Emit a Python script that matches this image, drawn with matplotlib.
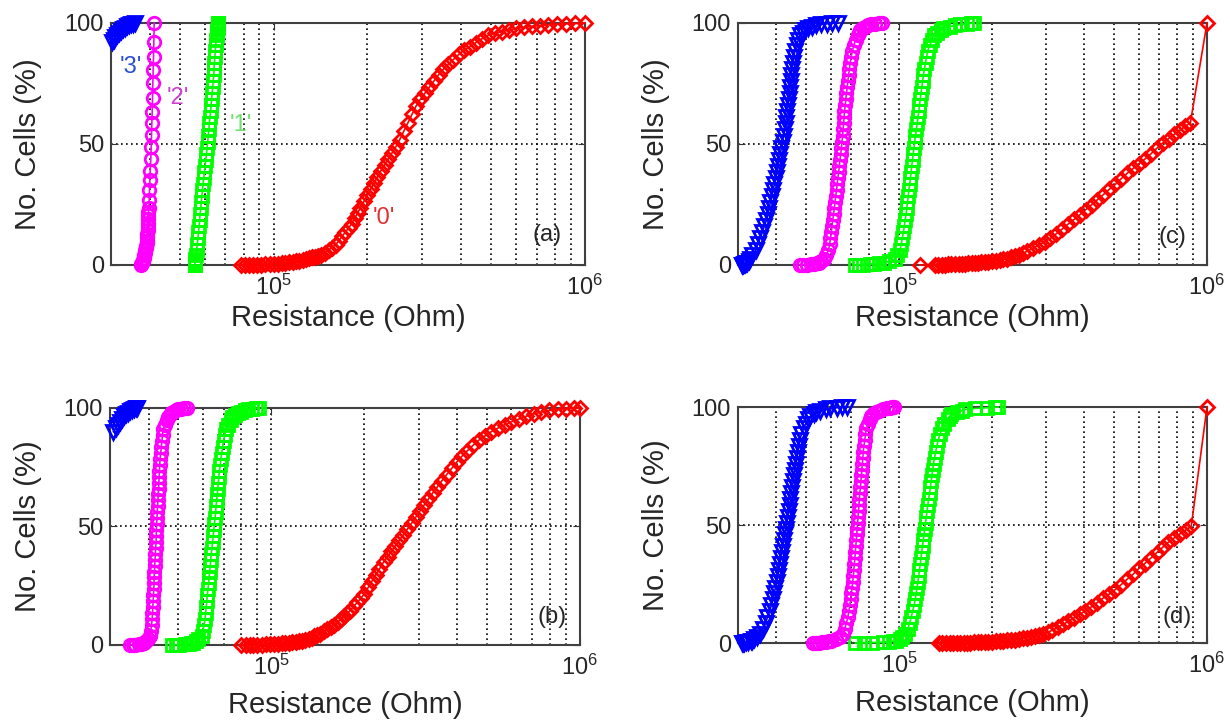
import matplotlib
matplotlib.use('Agg')
import matplotlib.pyplot as plt
from matplotlib.ticker import LogLocator, NullFormatter

plt.rcParams['font.family'] = ['Liberation Sans', 'DejaVu Sans']

# cumulative percentages shared by the steep state curves
LEVELS = [0, 0.1, 0.2, 0.35, 0.5, 0.75, 1, 1.5, 2.5, 4, 6,
          8.5, 11, 13.5, 16, 18.5, 21, 23.5, 26, 28.5, 31, 33.5, 36, 38.5, 41,
          43.5, 46, 48.5, 51, 53.5, 56, 58.5, 61, 63.5, 66, 68.5, 71, 73.5, 76,
          78.5, 81, 83.5, 86, 88.5,
          91, 93, 95, 96, 97, 97.8, 98.5, 99, 99.4, 99.7, 99.9, 100]

# resistances in kOhm
# (a)
BLUE_A_X = [30.2, 30.6, 31.0, 31.4, 31.9, 32.3, 32.8, 33.3, 33.8, 34.3, 34.8, 35.3, 35.8]
BLUE_A_Y = [92, 93, 94, 95, 96, 96.8, 97.5, 98.1, 98.6, 99, 99.4, 99.7, 100]
MAG_A_X = [37.4, 37.6, 37.7, 37.9, 38.0, 38.2, 38.4, 38.55, 38.7, 38.85, 38.95, 39.05, 39.1,
           39.2, 39.3, 39.35, 39.4, 39.45, 39.5, 39.55, 39.6, 39.7, 39.8, 39.9, 40.0, 40.1,
           40.3, 40.4, 40.5, 40.6, 40.7, 40.8, 40.9, 41.0, 41.1, 41.2, 41.3]
MAG_A_Y = [0, 0.5, 1, 1.5, 2, 3, 4, 5, 6, 7, 8, 9, 10, 11.5, 13, 14.5, 16, 17.5, 19, 20.5,
           22, 23.5, 26.9, 31, 35, 39, 44, 48.8, 53.7, 58.7, 63.2, 69, 75.2, 80.6, 86, 92, 100]
GREEN_A_X = [55.7, 55.7, 55.7, 55.8, 55.8, 55.8, 55.9, 55.9, 56.0, 56.2, 56.5,
             56.8, 57.1, 57.3, 57.6, 57.8, 58.0, 58.3, 58.5, 58.8, 59.0, 59.3, 59.6, 59.9, 60.2,
             60.5, 60.8, 61.1, 61.4, 61.6, 61.9, 62.1, 62.4, 62.7, 62.9, 63.2, 63.4, 63.7, 63.9,
             64.2, 64.3, 64.5, 64.7, 64.9,
             65.1, 65.3, 65.6, 65.7, 65.9, 66.0, 66.1, 66.2, 66.2, 66.3, 66.3, 66.3]
RED_A_X = [78.5, 81, 83.5, 86, 88.5, 91, 94, 97, 100, 103,
           106, 109, 112, 115, 118, 121, 124, 127, 130, 133,
           136, 139, 142, 146, 150, 154, 158, 162, 166, 170,
           174, 178, 182, 186, 190, 195, 200, 205, 210, 215,
           221, 227, 233, 240, 247, 254, 262, 270, 278, 287,
           296, 306, 316, 327, 339, 351, 364, 378, 393, 409,
           426, 445, 466, 489, 514, 541, 570, 602, 637, 675,
           716, 762, 812, 870, 932, 1000]
RED_A_Y = [0, 0, 0, 0.05, 0.1, 0.2, 0.28, 0.37, 0.45, 0.55,
           0.65, 0.9, 1.15, 1.3, 1.45, 1.65, 1.95, 2.4, 2.85, 3.2,
           3.5, 3.8, 4.1, 5.1, 6.2, 7.2, 8.3, 10.1, 11.9, 13.6,
           15.3, 17.1, 19.3, 21.5, 23.7, 26.3, 28.9, 31.4, 33.8, 36.2,
           39.0, 41.4, 43.7, 46.3, 48.9, 51.8, 55.4, 58.8, 62.2, 65.8,
           68.5, 71.0, 73.4, 76.0, 78.7, 80.9, 82.9, 84.9, 87.0, 88.8,
           90.2, 91.8, 93.4, 95.0, 95.7, 96.4, 97.1, 97.8, 98.25, 98.6,
           98.9, 99.25, 99.5, 99.65, 99.8, 100]

# (b)
BLUE_B_X = [30.8, 31.3, 31.8, 32.3, 32.8, 33.3, 33.8, 34.3, 34.8, 35.3, 35.8, 36.3, 36.8]
BLUE_B_Y = [90, 91.5, 93, 94.3, 95.5, 96.5, 97.3, 98, 98.6, 99.1, 99.5, 99.8, 100]
MAG_B_X = [34.9, 35.6, 36.2, 37.2, 37.9, 38.4, 38.8, 39.4, 39.9, 40.5, 40.7,
           40.9, 41.1, 41.2, 41.3, 41.4, 41.5, 41.6, 41.7, 41.7, 41.8, 41.9, 42.0, 42.1, 42.2,
           42.3, 42.4, 42.4, 42.5, 42.6, 42.7, 42.8, 42.9, 43.0, 43.1, 43.2, 43.3, 43.4, 43.5,
           43.6, 43.8, 44.0, 44.2, 44.4,
           44.6, 45.2, 45.8, 46.1, 46.8, 47.3, 48.0, 49.0, 49.9, 50.9, 52.0, 53.2]
GREEN_B_X = [47.7, 49.0, 50.4, 52.5, 54.0, 55.0, 55.8, 56.8, 58.0, 59.5, 60.0,
             60.5, 61.0, 61.2, 61.5, 61.8, 62.0, 62.3, 62.6, 62.9, 63.1, 63.4, 63.6, 63.9, 64.2,
             64.5, 64.8, 65.1, 65.4, 65.7, 66.0, 66.2, 66.5, 66.8, 67.1, 67.3, 67.6, 67.9, 68.3,
             68.6, 69.1, 69.5, 70.0, 70.6,
             71.3, 72.5, 73.8, 74.6, 76.4, 77.9, 79.8, 82.1, 84.0, 86.6, 89.0, 91.5]
RED_B_X = [80, 82.5, 85, 87.5, 90, 93, 96, 99, 102, 105,
           108, 111, 114, 117, 120, 123, 126, 129, 132, 135,
           138, 141, 144, 148, 152, 156, 160, 164, 168, 172,
           176, 180, 185, 190, 195, 200, 206, 212, 218, 224,
           231, 238, 245, 252, 260, 268, 276, 285, 294, 303,
           313, 323, 334, 345, 357, 370, 384, 399, 415, 432,
           450, 470, 492, 516, 542, 570, 600, 633, 669, 708,
           750, 796, 846, 900, 960, 1000]
RED_B_Y = [0, 0.02, 0.05, 0.08, 0.11, 0.2, 0.29, 0.37, 0.47, 0.57,
           0.68, 0.78, 0.95, 1.15, 1.35, 1.55, 1.8, 2.2, 2.7, 3.15,
           3.6, 4.1, 4.8, 5.7, 6.7, 7.6, 8.6, 9.7, 10.9, 12.1,
           13.3, 14.5, 16.3, 18.0, 19.7, 21.5, 24.3, 27.0, 29.6, 32.0,
           35.0, 37.3, 39.6, 41.8, 44.2, 46.6, 48.9, 51.4, 54.0, 56.5,
           59.1, 61.6, 64.3, 66.7, 69.3, 71.9, 74.5, 77.2, 79.7, 82.0,
           84.2, 86.4, 88.2, 90.0, 91.5, 92.9, 94.2, 95.3, 96.5, 97.5,
           98.3, 99.0, 99.4, 99.7, 99.9, 100]

# (c)
BLUE_C_X = [30.8, 30.9, 31.1, 31.3, 31.5, 31.9, 32.2, 32.5, 32.8, 33.4, 34.2,
            34.8, 35.4, 36.0, 36.5, 37.1, 37.5, 37.9, 38.2, 38.6, 39.0, 39.4, 39.8, 40.2, 40.5,
            40.8, 41.2, 41.5, 41.9, 42.2, 42.5, 42.8, 43.1, 43.4, 43.6, 43.9, 44.1, 44.3, 44.5,
            44.7, 44.9, 45.3, 45.6, 45.9,
            46.5, 47.1, 47.7, 48.6, 49.6, 50.5, 52.3, 53.9, 55.9, 58.3, 60.8, 63.2]
MAG_C_X = [47.7, 48.9, 50.1, 51.8, 53.1, 54.1, 54.8, 55.9, 57.0, 57.8, 59.0,
           59.5, 59.9, 60.3, 60.6, 60.9, 61.3, 61.6, 62.0, 62.3, 62.7, 63.0, 63.3, 63.7, 64.0,
           64.3, 64.7, 65.0, 65.3, 65.6, 65.8, 66.1, 66.3, 66.5, 66.9, 67.2, 67.5, 67.9, 68.2,
           68.6, 69.0, 69.4, 69.9, 70.6,
           71.4, 72.3, 73.6, 74.2, 74.9, 76.2, 77.8, 79.0, 80.9, 83.5, 86.0, 88.2]
GREEN_C_X = [71.7, 74.1, 76.6, 80.5, 83.0, 86.2, 89.1, 92.8, 97.1, 98.8, 100.6,
             101.6, 102.5, 103.3, 104.0, 104.7, 105.4, 106.0, 106.5, 107.1, 107.7, 108.3, 108.9,
             109.4, 110.0, 110.6, 111.2, 111.8, 112.4, 113.1, 113.8, 114.5, 115.2, 115.9, 116.5,
             117.2, 117.9, 118.6, 119.3, 120.0, 120.9, 121.9, 122.9, 123.9,
             126.0, 127.8, 129.6, 133.0, 136.4, 139.2, 146.0, 151.5, 158.0, 166.0, 171.0, 175.6]
RED_C_X = [116.8, 130.6, 134, 137.5, 141, 144.5, 148, 152, 156, 160,
           164, 168, 172, 176, 180, 185, 190, 195, 200, 206,
           212, 218, 224, 231, 238, 245, 252, 260, 272, 284,
           297, 310, 324, 339, 354, 370, 387, 404, 422, 441,
           461, 482, 504, 527, 551, 576, 602, 629, 657, 687,
           718, 750, 784, 819, 850, 883, 1000]
RED_C_Y = [0, 0, 0.05, 0.1, 0.17, 0.23, 0.3, 0.37, 0.44, 0.51,
           0.6, 0.68, 0.77, 0.86, 0.95, 1.1, 1.25, 1.4, 1.55, 1.8,
           2.05, 2.3, 2.6, 3.1, 3.7, 4.2, 4.8, 5.6, 6.9, 8.2,
           9.6, 11.0, 12.9, 14.9, 16.9, 18.8, 20.8, 22.9, 24.9, 27.0,
           29.1, 31.3, 33.3, 35.7, 37.9, 39.9, 41.9, 43.8, 45.9, 48.2,
           50.4, 52.2, 54.0, 55.8, 57.3, 58.7, 100]

# (d)
BLUE_D_X = [30.8, 31.1, 31.4, 31.9, 32.3, 33.0, 33.4, 33.9, 34.5, 35.4, 36.1,
            36.9, 37.4, 38.0, 38.5, 38.9, 39.3, 39.7, 40.1, 40.4, 40.7, 41.0, 41.3, 41.6, 41.9,
            42.3, 42.6, 42.9, 43.2, 43.5, 43.8, 44.2, 44.4, 44.7, 45.0, 45.3, 45.6, 45.9, 46.3,
            46.6, 46.9, 47.3, 47.6, 48.2,
            49.0, 49.8, 50.5, 51.5, 52.8, 53.9, 55.5, 57.9, 59.9, 62.7, 65.3, 68.0]
MAG_D_X = [52.5, 53.7, 54.9, 56.4, 57.8, 59.1, 60.3, 62.2, 64.2, 65.8, 66.6,
           67.5, 68.2, 68.7, 69.2, 69.6, 70.0, 70.4, 70.7, 71.1, 71.3, 71.6, 71.9, 72.1, 72.4,
           72.6, 72.9, 73.1, 73.4, 73.6, 73.9, 74.1, 74.3, 74.6, 74.9, 75.2, 75.5, 75.7, 76.0,
           76.3, 76.5, 76.9, 77.4, 77.8,
           78.3, 79.3, 80.4, 81.0, 82.2, 84.2, 86.4, 88.4, 91.3, 93.5, 95.0, 96.4]
GREEN_D_X = [72.2, 76.8, 81.9, 89.0, 93.0, 95.6, 97.7, 100.4, 102.5, 104.9, 106.8,
             108.2, 109.6, 110.7, 111.9, 112.9, 113.6, 114.4, 115.1, 115.9, 116.5, 117.2, 117.8,
             118.4, 119.2, 119.8, 120.5, 121.1, 121.9, 122.6, 123.3, 124.0, 124.8, 125.6, 126.4,
             127.2, 127.9, 128.7, 129.4, 130.4, 131.5, 132.7, 134.1, 135.8,
             137.5, 139.7, 143.9, 145.9, 148.0, 154.4, 160.0, 163.9, 176.5, 193.0, 204.2, 209.7]
RED_D_X = [134.5, 138, 142, 146, 150, 154, 158, 162, 166, 170,
           175, 180, 185, 190, 195, 200, 206, 212, 218, 224,
           231, 238, 245, 252, 260, 268, 276, 285, 294, 304,
           315, 328, 341, 355, 370, 386, 403, 421, 440, 460,
           481, 503, 526, 550, 575, 601, 628, 656, 686, 717,
           749, 782, 816, 852, 889, 1000]
RED_D_Y = [0, 0, 0, 0.03, 0.07, 0.1, 0.12, 0.14, 0.17, 0.19,
           0.23, 0.28, 0.33, 0.38, 0.45, 0.55, 0.65, 0.76, 0.95, 1.1,
           1.3, 1.45, 1.7, 1.95, 2.25, 2.5, 2.9, 3.3, 3.9, 4.5,
           5.5, 6.7, 7.9, 9.2, 10.6, 12.1, 13.7, 15.3, 17.1, 19.0,
           20.7, 22.6, 24.7, 27.0, 29.1, 31.6, 33.7, 35.9, 38.2, 40.5,
           42.7, 44.5, 46.2, 47.8, 49.5, 100]

BLUE, MAGENTA, GREEN, RED = '#0000ff', '#ff00ff', '#00ff00', '#ff0000'
TEXT_COLOR = '#262626'


def curve(ax, x_kohm, y, color, marker, ms):
    ax.plot([v * 1e3 for v in x_kohm], y, color=color, marker=marker, mfc='none',
            mec=color, ms=ms, mew=2.0, lw=1.2, clip_on=False, zorder=3)


def style_axes(ax, tag, tag_xy, xlabel_y):
    ax.set_xscale('log')
    ax.set_xlim(3e4, 1e6)
    ax.set_ylim(0, 100)
    ax.set_yticks([0, 50, 100])
    ax.set_xticks([1e5, 1e6])
    ax.set_xticklabels([r'$\mathregular{10^{5}}$', r'$\mathregular{10^{6}}$'])
    ax.xaxis.set_minor_locator(LogLocator(base=10, subs=range(2, 10)))
    ax.xaxis.set_minor_formatter(NullFormatter())
    ax.grid(True, which='both', axis='x', color='k', ls=(0, (1, 2)), lw=1.2)
    ax.grid(True, which='major', axis='y', color='k', ls=(0, (1, 2)), lw=1.2)
    ax.set_axisbelow(True)
    ax.tick_params(which='major', direction='in', length=5, top=True, right=True,
                   labelsize=17, labelcolor=TEXT_COLOR, color='#333333')
    ax.tick_params(axis='x', which='major', pad=7)
    ax.tick_params(axis='y', which='major', pad=5)
    ax.tick_params(which='minor', length=0)
    for sp in ax.spines.values():
        sp.set_color('#404040')
        sp.set_linewidth(1.5)
    ax.set_ylabel('No. Cells (%)', fontsize=21, color=TEXT_COLOR, va='center')
    ax.yaxis.set_label_coords(-0.175, 0.5)
    ax.set_xlabel('Resistance (Ohm)', fontsize=21, color=TEXT_COLOR, va='center')
    ax.xaxis.set_label_coords(0.5, xlabel_y)
    ax.text(tag_xy[0], tag_xy[1], tag, transform=ax.transAxes, fontsize=17,
            color=TEXT_COLOR, ha='center', va='center', zorder=5)


fig = plt.figure(figsize=(12.3, 7.27), dpi=100)
ax_a = fig.add_axes([0.0902, 0.6355, 0.3854, 0.3329])
ax_c = fig.add_axes([0.6000, 0.6355, 0.3813, 0.3329])
ax_b = fig.add_axes([0.0894, 0.1128, 0.3821, 0.3260])
ax_d = fig.add_axes([0.6000, 0.1155, 0.3813, 0.3246])

# (a)
curve(ax_a, RED_A_X, RED_A_Y, RED, 'D', 7.5)
curve(ax_a, GREEN_A_X, LEVELS, GREEN, 's', 8.5)
curve(ax_a, MAG_A_X, MAG_A_Y, MAGENTA, 'o', 9)
curve(ax_a, BLUE_A_X, BLUE_A_Y, BLUE, 'v', 9.5)
style_axes(ax_a, '(a)', (0.92, 0.125), -0.22)
ax_a.text(34.7e3, 81.8, "'3'", color='#2a4fd0', fontsize=17, ha='center', va='center', zorder=5)
ax_a.text(49.1e3, 69, "'2'", color='#d040d0', fontsize=17, ha='center', va='center', zorder=5)
ax_a.text(78.4e3, 58, "'1'", color='#70e070', fontsize=17, ha='center', va='center', zorder=5)
ax_a.text(226e3, 19.4, "'0'", color='#e03030', fontsize=17, ha='center', va='center', zorder=5)

# (b)
curve(ax_b, RED_B_X, RED_B_Y, RED, 'D', 7.5)
curve(ax_b, GREEN_B_X, LEVELS, GREEN, 's', 8.5)
curve(ax_b, MAG_B_X, LEVELS, MAGENTA, 'o', 9)
curve(ax_b, BLUE_B_X, BLUE_B_Y, BLUE, 'v', 9.5)
style_axes(ax_b, '(b)', (0.94, 0.12), -0.255)

# (c)
curve(ax_c, RED_C_X, RED_C_Y, RED, 'D', 7.5)
curve(ax_c, GREEN_C_X, LEVELS, GREEN, 's', 8.5)
curve(ax_c, MAG_C_X, LEVELS, MAGENTA, 'o', 9)
curve(ax_c, BLUE_C_X, LEVELS, BLUE, 'v', 9.5)
style_axes(ax_c, '(c)', (0.927, 0.116), -0.22)

# (d)
curve(ax_d, RED_D_X, RED_D_Y, RED, 'D', 7.5)
curve(ax_d, GREEN_D_X, LEVELS, GREEN, 's', 8.5)
curve(ax_d, MAG_D_X, LEVELS, MAGENTA, 'o', 9)
curve(ax_d, BLUE_D_X, LEVELS, BLUE, 'v', 9.5)
style_axes(ax_d, '(d)', (0.936, 0.11), -0.255)

fig.savefig('out.png', dpi=100)
